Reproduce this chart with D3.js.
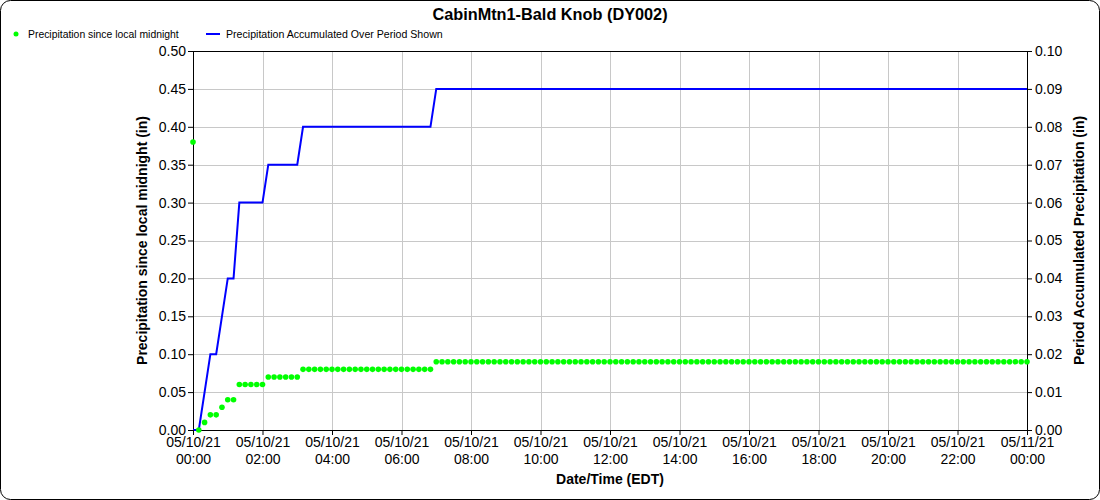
<!DOCTYPE html>
<html>
<head>
<meta charset="utf-8">
<script src="https://cdn.jsdelivr.net/npm/d3@7"></script>
<style>
  body { margin: 0; background: #fff; }
  svg { font-family: "Liberation Sans", Arial, sans-serif; }
  .grid line { stroke: #c8c8c8; stroke-width: 1; }
  .axis text { font-size: 14px; fill: #000; }
  .axis path, .axis line { stroke: #000; }
</style>
</head>
<body>
<script>
// 10-minute readings, 05/10/21 00:00 to 05/11/21 00:00
var startTime = new Date(2021, 4, 10, 0, 0);
var endTime = new Date(2021, 4, 11, 0, 0);

// precipitation since local midnight (in)
var sinceMidnight = [
  0.38, 0.00, 0.01, 0.02, 0.02, 0.03, 0.04, 0.04,
  0.06, 0.06, 0.06, 0.06, 0.06,
  0.07, 0.07, 0.07, 0.07, 0.07, 0.07,
  0.08, 0.08, 0.08, 0.08, 0.08, 0.08, 0.08, 0.08, 0.08, 0.08, 0.08, 0.08,
  0.08, 0.08, 0.08, 0.08, 0.08, 0.08, 0.08, 0.08, 0.08, 0.08, 0.08,
  0.09, 0.09, 0.09, 0.09, 0.09, 0.09, 0.09, 0.09, 0.09, 0.09, 0.09, 0.09,
  0.09, 0.09, 0.09, 0.09, 0.09, 0.09, 0.09, 0.09, 0.09, 0.09, 0.09, 0.09,
  0.09, 0.09, 0.09, 0.09, 0.09, 0.09, 0.09, 0.09, 0.09, 0.09, 0.09, 0.09,
  0.09, 0.09, 0.09, 0.09, 0.09, 0.09, 0.09, 0.09, 0.09, 0.09, 0.09, 0.09,
  0.09, 0.09, 0.09, 0.09, 0.09, 0.09, 0.09, 0.09, 0.09, 0.09, 0.09, 0.09,
  0.09, 0.09, 0.09, 0.09, 0.09, 0.09, 0.09, 0.09, 0.09, 0.09, 0.09, 0.09,
  0.09, 0.09, 0.09, 0.09, 0.09, 0.09, 0.09, 0.09, 0.09, 0.09, 0.09, 0.09,
  0.09, 0.09, 0.09, 0.09, 0.09, 0.09, 0.09, 0.09, 0.09, 0.09, 0.09, 0.09,
  0.09, 0.09, 0.09, 0.09, 0.09, 0.09, 0.09
];

// precipitation accumulated over period shown (in)
var accumulated = [
  0.00, 0.00, 0.01, 0.02, 0.02, 0.03, 0.04, 0.04,
  0.06, 0.06, 0.06, 0.06, 0.06,
  0.07, 0.07, 0.07, 0.07, 0.07, 0.07,
  0.08, 0.08, 0.08, 0.08, 0.08, 0.08, 0.08, 0.08, 0.08, 0.08, 0.08, 0.08,
  0.08, 0.08, 0.08, 0.08, 0.08, 0.08, 0.08, 0.08, 0.08, 0.08, 0.08,
  0.09, 0.09, 0.09, 0.09, 0.09, 0.09, 0.09, 0.09, 0.09, 0.09, 0.09, 0.09,
  0.09, 0.09, 0.09, 0.09, 0.09, 0.09, 0.09, 0.09, 0.09, 0.09, 0.09, 0.09,
  0.09, 0.09, 0.09, 0.09, 0.09, 0.09, 0.09, 0.09, 0.09, 0.09, 0.09, 0.09,
  0.09, 0.09, 0.09, 0.09, 0.09, 0.09, 0.09, 0.09, 0.09, 0.09, 0.09, 0.09,
  0.09, 0.09, 0.09, 0.09, 0.09, 0.09, 0.09, 0.09, 0.09, 0.09, 0.09, 0.09,
  0.09, 0.09, 0.09, 0.09, 0.09, 0.09, 0.09, 0.09, 0.09, 0.09, 0.09, 0.09,
  0.09, 0.09, 0.09, 0.09, 0.09, 0.09, 0.09, 0.09, 0.09, 0.09, 0.09, 0.09,
  0.09, 0.09, 0.09, 0.09, 0.09, 0.09, 0.09, 0.09, 0.09, 0.09, 0.09, 0.09,
  0.09, 0.09, 0.09, 0.09, 0.09, 0.09, 0.09
];

var leftTicks = [0, 0.05, 0.10, 0.15, 0.20, 0.25, 0.30, 0.35, 0.40, 0.45, 0.50];
var rightTicks = [0, 0.01, 0.02, 0.03, 0.04, 0.05, 0.06, 0.07, 0.08, 0.09, 0.10];
var xTickHours = [0, 2, 4, 6, 8, 10, 12, 14, 16, 18, 20, 22, 24];

var W = 1100, H = 500;
var margin = {top: 51, right: 73, bottom: 70, left: 193};
var width = W - margin.left - margin.right,
    height = H - margin.top - margin.bottom;

var times = sinceMidnight.map(function(v, i) {
  return new Date(startTime.getTime() + i * 10 * 60000);
});

var svg = d3.select("body").append("svg")
    .attr("width", W).attr("height", H);

svg.append("rect")
    .attr("x", 0.5).attr("y", 0.5)
    .attr("width", W - 1).attr("height", H - 1)
    .attr("rx", 10).attr("ry", 10)
    .attr("fill", "#fff").attr("stroke", "#000").attr("stroke-width", 1);

svg.append("text")
    .attr("x", 550).attr("y", 20)
    .attr("text-anchor", "middle")
    .style("font-size", "16.3px").style("font-weight", "bold")
    .text("CabinMtn1-Bald Knob (DY002)");

// legend
var legend = svg.append("g").attr("transform", "translate(0,34)");
legend.append("circle").attr("cx", 16).attr("cy", 0).attr("r", 2.5).attr("fill", "#00ff00");
legend.append("text").attr("x", 28).attr("y", 4).style("font-size", "10.4px")
    .text("Precipitation since local midnight");
legend.append("line").attr("x1", 206).attr("x2", 220).attr("y1", 0).attr("y2", 0)
    .attr("stroke", "#0000ff").attr("stroke-width", 2);
legend.append("text").attr("x", 226).attr("y", 4).style("font-size", "10.6px")
    .text("Precipitation Accumulated Over Period Shown");

var g = svg.append("g")
    .attr("transform", "translate(" + margin.left + "," + margin.top + ")");

var x = d3.scaleTime().domain([startTime, endTime]).range([0, width]);
var yL = d3.scaleLinear().domain([0, 0.5]).range([height, 0]);
var yR = d3.scaleLinear().domain([0, 0.1]).range([height, 0]);

var xTicks = xTickHours.map(function(h) {
  return new Date(startTime.getTime() + h * 3600000);
});

// grid
g.append("g").attr("class", "grid")
  .selectAll("line").data(leftTicks).enter().append("line")
    .attr("x1", 0).attr("x2", width)
    .attr("y1", function(d) { return Math.round(yL(d)) + 0.5; })
    .attr("y2", function(d) { return Math.round(yL(d)) + 0.5; });
g.append("g").attr("class", "grid")
  .selectAll("line").data(xTicks).enter().append("line")
    .attr("y1", 0).attr("y2", height)
    .attr("x1", function(d) { return Math.round(x(d)) + 0.5; })
    .attr("x2", function(d) { return Math.round(x(d)) + 0.5; });

// frame
g.append("rect").attr("x", 0.5).attr("y", 0.5)
    .attr("width", width).attr("height", height)
    .attr("fill", "none").attr("stroke", "#000");

// accumulated line
var line = d3.line()
    .x(function(d, i) { return x(times[i]); })
    .y(function(d) { return yR(d); });
g.append("path").datum(accumulated)
    .attr("fill", "none").attr("stroke", "#0000ff").attr("stroke-width", 2)
    .attr("d", line);

// since midnight dots
g.append("g").selectAll("circle").data(sinceMidnight).enter().append("circle")
    .attr("cx", function(d, i) { return x(times[i]); })
    .attr("cy", function(d) { return yL(d); })
    .attr("r", 2.8)
    .attr("fill", "#00ff00");

// axes
var fmt2 = d3.format(".2f");
g.append("g").attr("class", "axis")
    .call(d3.axisLeft(yL).tickValues(leftTicks).tickFormat(fmt2).tickSize(5).tickPadding(2))
    .call(function(a) { a.select(".domain").remove(); });
g.append("g").attr("class", "axis")
    .attr("transform", "translate(" + width + ",0)")
    .call(d3.axisRight(yR).tickValues(rightTicks).tickFormat(fmt2).tickSize(5).tickPadding(3))
    .call(function(a) { a.select(".domain").remove(); });

var xAxis = g.append("g").attr("class", "axis")
    .attr("transform", "translate(0," + height + ")")
    .call(d3.axisBottom(x).tickValues(xTicks).tickSize(5).tickFormat(function() { return ""; }))
    .call(function(a) { a.select(".domain").remove(); });
xAxis.selectAll(".tick text").each(function(d) {
  var t = d3.select(this).attr("y", 0);
  t.append("tspan").attr("x", 0).attr("dy", "1.2em").text(d3.timeFormat("%m/%d/%y")(d));
  t.append("tspan").attr("x", 0).attr("dy", "1.2em").text(d3.timeFormat("%H:%M")(d));
});

// axis titles
svg.append("text")
    .attr("transform", "translate(147," + (margin.top + height / 2) + ") rotate(-90)")
    .attr("text-anchor", "middle")
    .style("font-size", "14px").style("font-weight", "bold")
    .text("Precipitation since local midnight (in)");
svg.append("text")
    .attr("transform", "translate(1084," + (margin.top + height / 2) + ") rotate(-90)")
    .attr("text-anchor", "middle")
    .style("font-size", "14px").style("font-weight", "bold")
    .text("Period Accumulated Precipitation (in)");
svg.append("text")
    .attr("x", margin.left + width / 2).attr("y", 484)
    .attr("text-anchor", "middle")
    .style("font-size", "14px").style("font-weight", "bold")
    .text("Date/Time (EDT)");
</script>
</body>
</html>
